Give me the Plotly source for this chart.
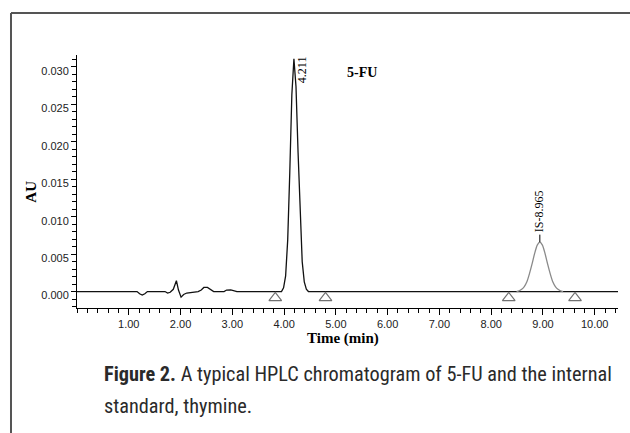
import plotly.graph_objects as go

# ---------------- data ----------------
# main detector trace (black): baseline noise + 5-FU peak
trace_time = [0.00, 1.16, 1.21, 1.26, 1.31, 1.36, 1.70, 1.75, 1.80, 1.86, 1.92, 1.96,
              2.01, 2.06, 2.12, 2.20, 2.34, 2.40, 2.45, 2.52, 2.58, 2.64, 2.84, 2.89,
              2.97, 3.03, 3.09, 3.95, 3.99, 4.03, 4.07, 4.11, 4.15, 4.19, 4.23, 4.27,
              4.31, 4.35, 4.39, 4.43, 4.47, 10.45]
trace_au = [0.0, 0.0, -0.0003, -0.00048, -0.0003, 0.0, 0.0, -0.0002, -0.0001, 0.0003,
            0.00145, 0.0002, -0.00075, -0.0004, -0.0002, -0.0001, 0.0, 0.0002, 0.00055,
            0.00055, 0.0003, 0.0, 0.0, 0.0002, 0.00022, 0.0001, 0.0, 0.0, 0.0005,
            0.0021, 0.0069, 0.0159, 0.0263, 0.0311, 0.0274, 0.0186, 0.0098, 0.0040,
            0.0013, 0.0003, 0.0, 0.0]

# internal standard (thymine) peak (grey)
is_time = [8.49, 8.54, 8.59, 8.64, 8.69, 8.74, 8.79, 8.84, 8.89, 8.94, 8.99, 9.04,
           9.09, 9.14, 9.19, 9.24, 9.29, 9.34, 9.39]
is_au = [0.0, 0.0001, 0.0003, 0.00066, 0.0013, 0.0024, 0.0037, 0.0051, 0.0062, 0.0066,
         0.0062, 0.0051, 0.0037, 0.0024, 0.0013, 0.00066, 0.0003, 0.0001, 0.0]

# integration start/end markers
marker_time = [3.83, 4.80, 8.34, 9.62]
marker_au = [-0.00085, -0.00085, -0.00085, -0.00085]

peak_labels = ["4.211", "IS-8.965"]
compound_label = "5-FU"

x_tick_vals = [1, 2, 3, 4, 5, 6, 7, 8, 9, 10]
x_tick_text = ["1.00", "2.00", "3.00", "4.00", "5.00", "6.00", "7.00", "8.00", "9.00", "10.00"]
y_tick_vals = [0.000, 0.005, 0.010, 0.015, 0.020, 0.025, 0.030]
y_tick_text = ["0.000", "0.005", "0.010", "0.015", "0.020", "0.025", "0.030"]

x_title = "Time (min)"
y_title = "AU"
caption_1 = "<b>Figure 2.</b> A typical HPLC chromatogram of 5-FU and the internal"
caption_2 = "standard, thymine."

# ---------------- figure ----------------
SERIF = "Liberation Serif, Times New Roman, serif"
SANS = "Liberation Sans, Arial, sans-serif"
CAP = "Liberation Sans Narrow, Arial Narrow, Roboto Condensed, Lato, sans-serif"

fig = go.Figure()
fig.add_trace(go.Scatter(x=trace_time, y=trace_au, mode="lines",
                         line=dict(color="#111111", width=1.3), hoverinfo="skip"))
fig.add_trace(go.Scatter(x=is_time, y=is_au, mode="lines",
                         line=dict(color="#8a8a8a", width=1.3, shape="spline", smoothing=0.6),
                         hoverinfo="skip"))
fig.add_trace(go.Scatter(x=marker_time, y=marker_au, mode="markers",
                         marker=dict(symbol="triangle-up-open", size=11, color="#707070",
                                     line=dict(width=1.2, color="#707070")),
                         hoverinfo="skip"))

# peak apexes derived from the data
i1 = trace_au.index(max(trace_au))
p1_t, p1_y = trace_time[i1], trace_au[i1]
i2 = is_au.index(max(is_au))
p2_t, p2_y = is_time[i2], is_au[i2]

annotations = [
    dict(x=p1_t + 0.155, y=p1_y - 0.0014, text=peak_labels[0], textangle=-90, showarrow=False,
         xanchor="center", yanchor="middle", font=dict(family=SERIF, size=12, color="#000")),
    dict(x=p2_t, y=p2_y + 0.0041, text=peak_labels[1], textangle=-90, showarrow=False,
         xanchor="center", yanchor="middle", font=dict(family=SERIF, size=12, color="#000")),
    dict(x=5.51, y=0.02927, text="<b>" + compound_label + "</b>", showarrow=False,
         xanchor="center", yanchor="middle", font=dict(family=SERIF, size=14, color="#000")),
    dict(xref="paper", yref="paper", x=0.4917, y=-0.1225, text="<b>" + x_title + "</b>",
         showarrow=False, xanchor="center", yanchor="middle",
         font=dict(family=SERIF, size=15, color="#000")),
    dict(xref="paper", yref="paper", x=-0.085, y=0.46, text="<b>" + y_title + "</b>",
         textangle=-90, showarrow=False, xanchor="center", yanchor="middle",
         font=dict(family=SERIF, size=15, color="#000")),
    dict(xref="paper", yref="paper", x=0.046, y=-0.261, text=caption_1, showarrow=False,
         xanchor="left", yanchor="middle", font=dict(family=CAP, size=20.3, color="#2a2a2a")),
    dict(xref="paper", yref="paper", x=0.046, y=-0.387, text=caption_2, showarrow=False,
         xanchor="left", yanchor="middle", font=dict(family=CAP, size=20.3, color="#2a2a2a")),
]

shapes = [
    # leader line above the IS apex
    dict(type="line", xref="x", yref="y", x0=p2_t, x1=p2_t, y0=p2_y, y1=p2_y + 0.0010,
         line=dict(color="#000", width=1)),
    # figure frame (top and left border)
    dict(type="line", xref="paper", yref="paper", x0=-0.122, x1=1.03, y0=1.166, y1=1.166,
         line=dict(color="#555555", width=2)),
    dict(type="line", xref="paper", yref="paper", x0=-0.122, x1=-0.122, y0=1.166, y1=-0.52,
         line=dict(color="#555555", width=2)),
]

fig.update_layout(
    width=630, height=433,
    margin=dict(l=77, r=12, t=55, b=125),
    paper_bgcolor="white", plot_bgcolor="white",
    showlegend=False,
    annotations=annotations, shapes=shapes,
    xaxis=dict(range=[0, 10.45], showgrid=False, zeroline=False, showline=True,
               linecolor="#000", linewidth=1, ticks="outside", ticklen=6, tickwidth=1,
               tickcolor="#000", tickmode="array", tickvals=x_tick_vals, ticktext=x_tick_text,
               tickfont=dict(family=SANS, size=11, color="#222"),
               minor=dict(ticks="outside", ticklen=4, tickwidth=1, tickcolor="#000",
                          dtick=0.2, tick0=0, showgrid=False)),
    yaxis=dict(range=[-0.0022, 0.0316], showgrid=False, zeroline=False, showline=True,
               linecolor="#000", linewidth=1, ticks="outside", ticklen=5, tickwidth=1,
               tickcolor="#000", tickmode="array", tickvals=y_tick_vals, ticktext=y_tick_text,
               ticklabelshift=4,
               tickfont=dict(family=SANS, size=11, color="#222"),
               minor=dict(ticks="outside", ticklen=4, tickwidth=1, tickcolor="#000",
                          dtick=0.001, tick0=0, showgrid=False)),
)

fig.write_html("out.html", config={"displayModeBar": False},
               post_script="document.body.style.margin='0px';document.body.style.overflow='hidden';")
